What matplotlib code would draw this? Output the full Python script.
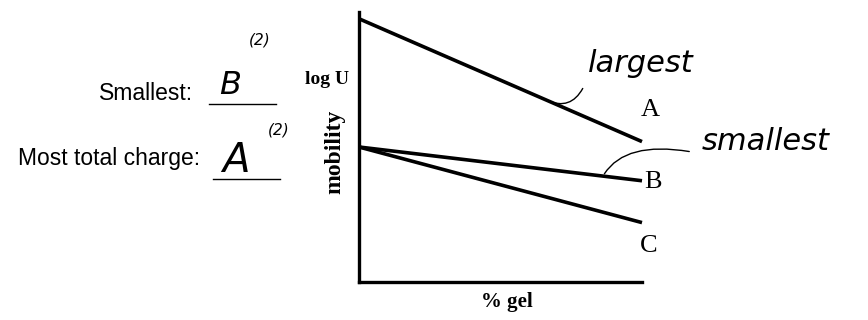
import matplotlib.pyplot as plt

# chart values: % gel on x, log U (mobility) on y
gel = [0, 10]
log_u_a = [9.75, 5.2]
log_u_b = [5.0, 3.75]
log_u_c = [5.0, 2.2]
curve_names = ['A', 'B', 'C']

# answers written on the sheet
answer_labels = ['Smallest:', 'Most total charge:']
answers = ['B', 'A']
marks = ['(2)', '(2)']

W, H = 868, 320
fig = plt.figure(figsize=(W / 100, H / 100), dpi=100)


def fx(x):
    return x / W


def fy(y):
    return 1 - y / H


# plot area
ax = fig.add_axes([fx(359), fy(282), fx(642 - 359), (282 - 12) / H])
ax.set_xlim(0, 10)
ax.set_ylim(0, 10)
for s in ['top', 'right']:
    ax.spines[s].set_visible(False)
for s in ['left', 'bottom']:
    ax.spines[s].set_linewidth(2.4)
ax.set_xticks([])
ax.set_yticks([])

for ys, name in zip([log_u_a, log_u_b, log_u_c], curve_names):
    ax.plot(gel, ys, color='black', linewidth=2.6, solid_capstyle='butt', clip_on=False)

serif = ['Liberation Serif', 'DejaVu Serif']
ax.annotate(curve_names[0], xy=(gel[1], log_u_a[1]), xytext=(6, 23), textcoords='offset points',
            ha='center', va='center', fontsize=19, family=serif)
ax.annotate(curve_names[1], xy=(gel[1], log_u_b[1]), xytext=(8, -1), textcoords='offset points',
            ha='center', va='center', fontsize=19, family=serif)
ax.annotate(curve_names[2], xy=(gel[1], log_u_c[1]), xytext=(5, -17), textcoords='offset points',
            ha='center', va='center', fontsize=19, family=serif)

# axis labels
fig.text(fx(327), fy(79), 'log U', ha='center', va='center', fontsize=14, family=serif,
         fontweight='bold')
fig.text(fx(335), fy(152), 'mobility', ha='center', va='center', fontsize=17, family=serif,
         rotation=90, fontweight='bold')
fig.text(fx(507), fy(302), '% gel', ha='center', va='center', fontsize=15, family=serif,
         fontweight='bold')

# handwritten notes with squiggly pointers
hand = dict(family=['DejaVu Sans'], fontstyle='oblique', fontweight='light', color='black')
ax.annotate('', xy=(6.57, 6.76), xytext=(fx(584), fy(86)), textcoords='figure fraction',
            arrowprops=dict(arrowstyle='-', color='black', lw=1.0,
                            connectionstyle='arc3,rad=-0.5'))
fig.text(fx(588), fy(63), 'largest', ha='left', va='center', fontsize=22, **hand)
ax.annotate('', xy=(8.62, 3.92), xytext=(fx(692), fy(152)), textcoords='figure fraction',
            arrowprops=dict(arrowstyle='-', color='black', lw=1.0,
                            connectionstyle='angle3,angleA=170,angleB=60'))
fig.text(fx(702), fy(142), 'smallest', ha='left', va='center', fontsize=22, **hand)

# answer block on the left
sans = ['Liberation Sans Narrow', 'Liberation Sans', 'DejaVu Sans']
fig.text(fx(193), fy(94), answer_labels[0], ha='right', va='center', fontsize=16.5, family=sans)
fig.text(fx(200), fy(158), answer_labels[1], ha='right', va='center', fontsize=16.5, family=sans)
fig.add_artist(plt.Line2D([fx(209), fx(276)], [fy(104), fy(104)], color='black', lw=1.0))
fig.add_artist(plt.Line2D([fx(213), fx(280)], [fy(179), fy(179)], color='black', lw=1.0))
fig.text(fx(230), fy(86), answers[0], ha='center', va='center', fontsize=23, **hand)
fig.text(fx(236), fy(160), answers[1], ha='center', va='center', fontsize=29, **hand)
fig.text(fx(260), fy(40), marks[0], ha='center', va='center', fontsize=11, **hand)
fig.text(fx(279), fy(130), marks[1], ha='center', va='center', fontsize=11, **hand)

fig.savefig('out.png', dpi=100, facecolor='white')
